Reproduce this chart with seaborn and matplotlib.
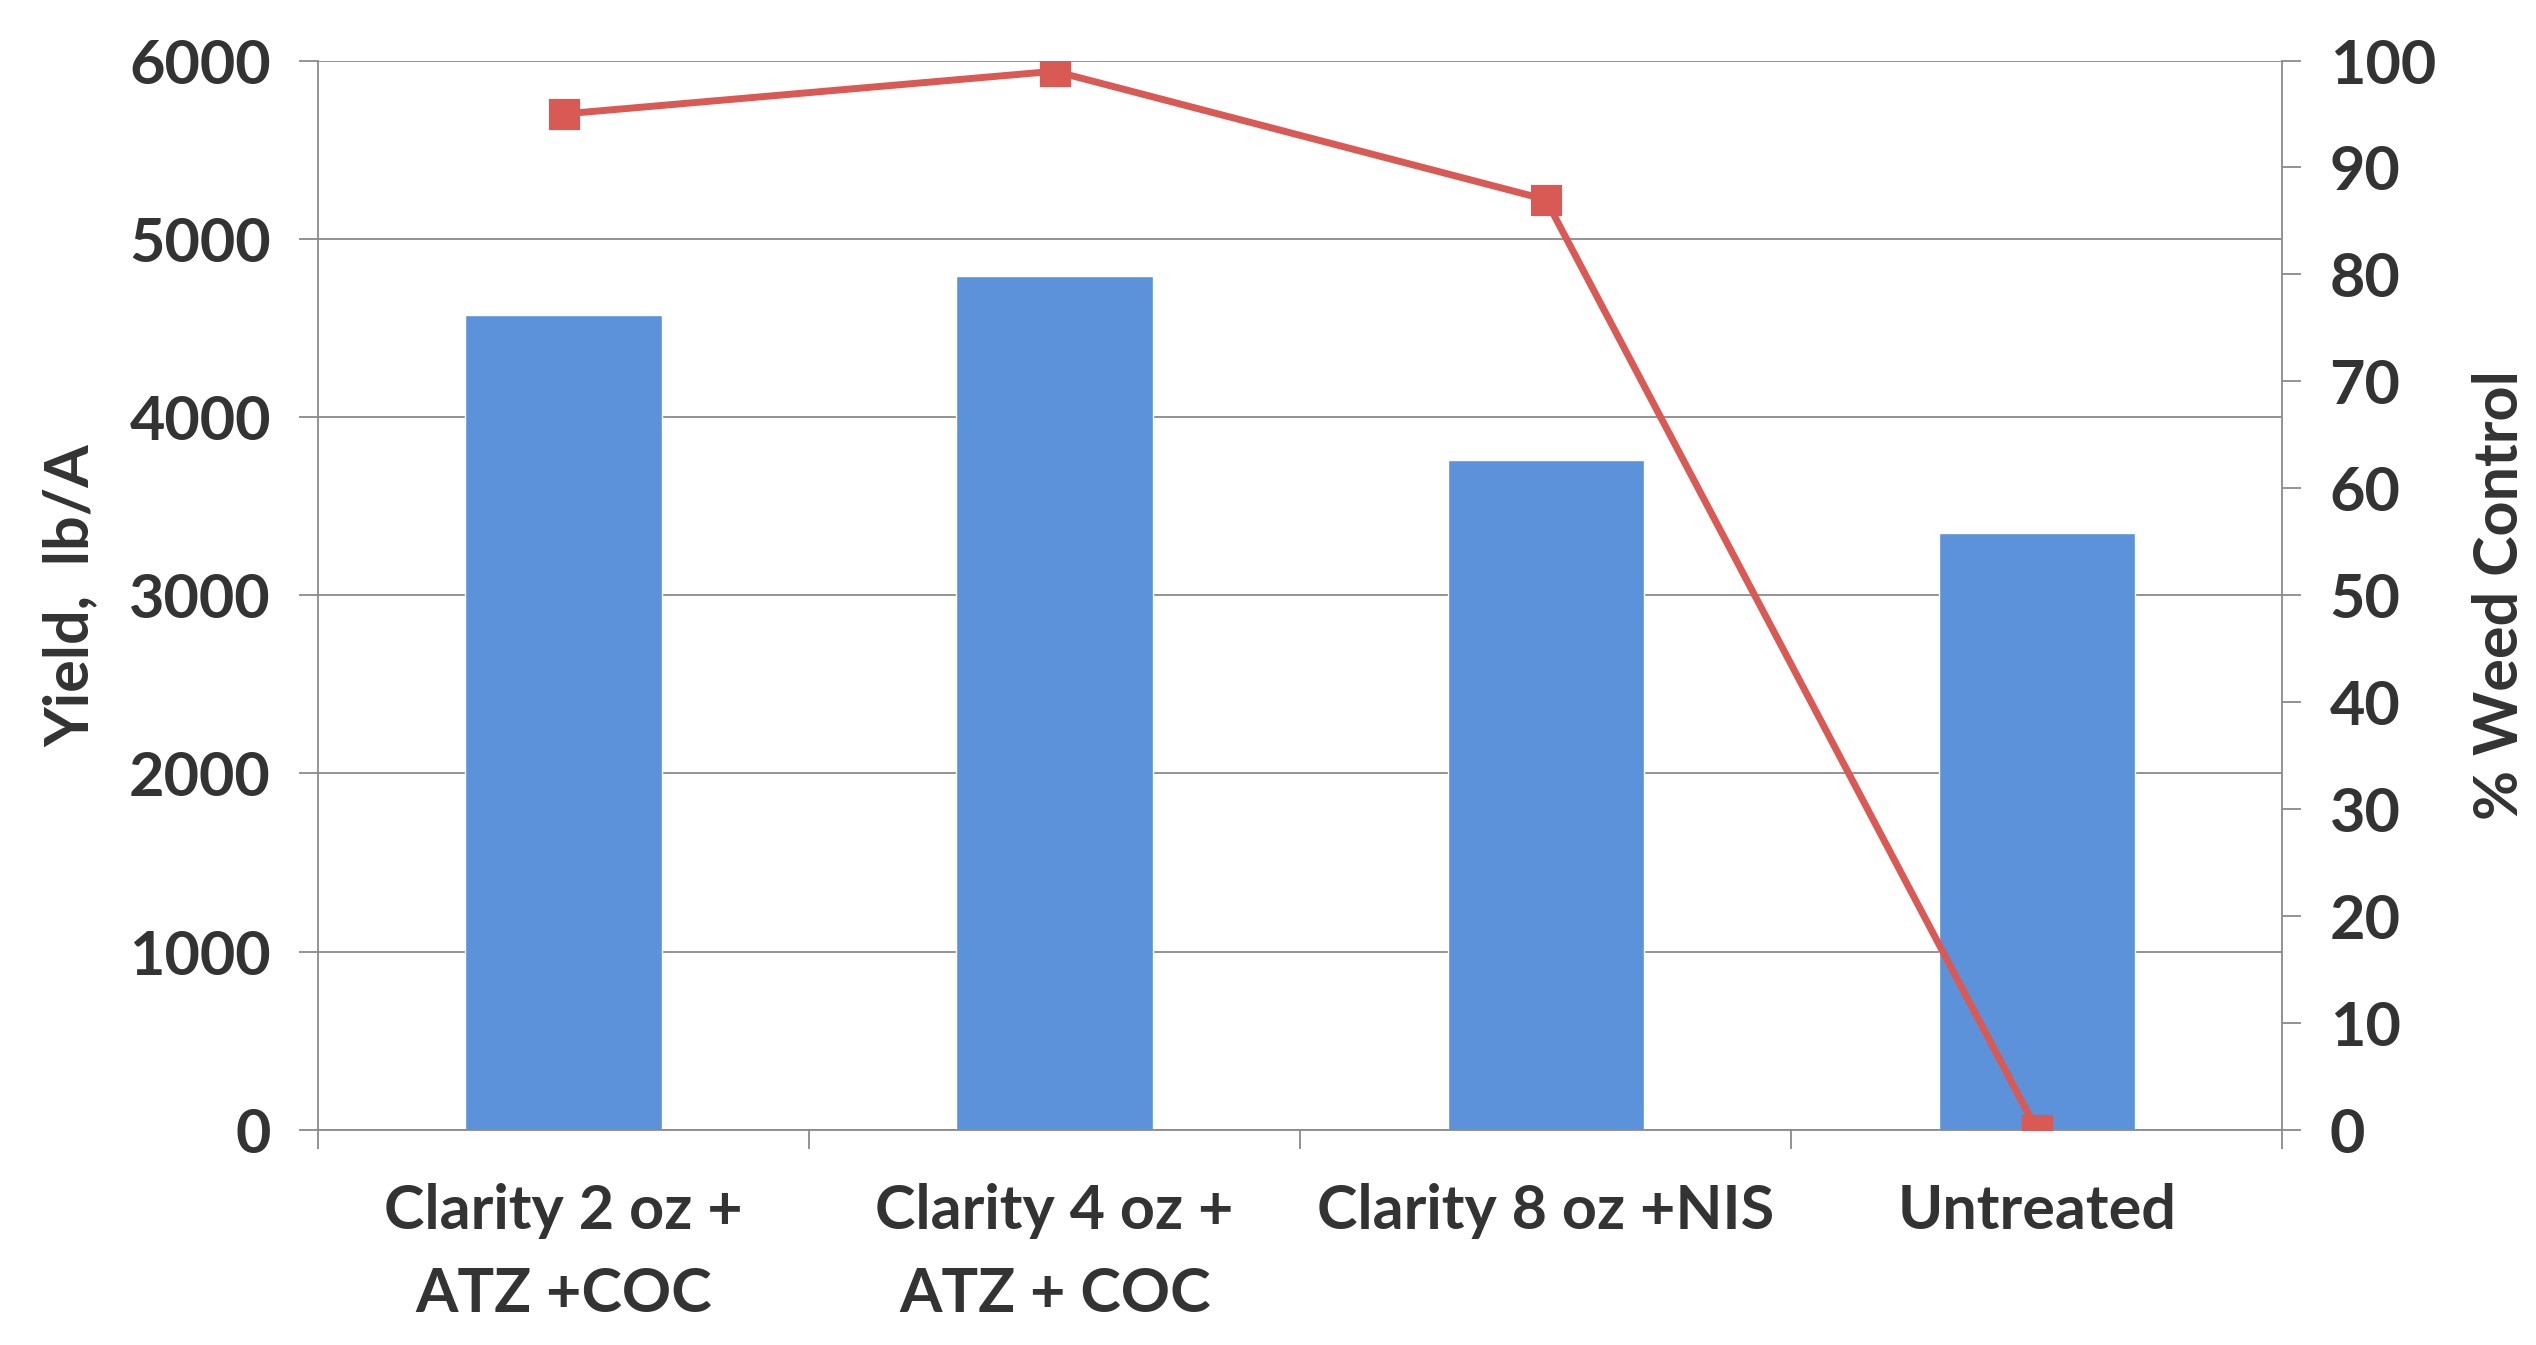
import matplotlib
matplotlib.use("Agg")
import matplotlib.pyplot as plt
import matplotlib.ticker as mticker
import seaborn as sns

# Data
treatments = [
    "Clarity 2 oz +\nATZ +COC",
    "Clarity 4 oz +\nATZ + COC",
    "Clarity 8 oz +NIS",
    "Untreated",
]
yield_lb_a = [4570, 4790, 3760, 3350]
weed_control = [95, 99, 87, 0]

BAR_COLOR = "#5b92d9"
LINE_COLOR = "#d95a55"
TEXT_COLOR = "#333333"
GRID_COLOR = "#8a8a8a"
FS = 44

sns.set_theme(style="white")
plt.rcParams["font.family"] = ["Lato", "DejaVu Sans"]
plt.rcParams["font.weight"] = "bold"

fig, ax = plt.subplots(figsize=(25.36, 13.45), dpi=100)
fig.subplots_adjust(left=0.1254, right=0.900, top=0.955, bottom=0.160)

# Bars: yield
sns.barplot(x=treatments, y=yield_lb_a, color=BAR_COLOR, width=0.4,
            saturation=1, ax=ax, zorder=2)
ax.set_ylim(0, 6000)
ax.set_xlim(-0.5, 3.5)
ax.yaxis.set_major_locator(mticker.MultipleLocator(1000))
ax.set_axisbelow(True)
ax.grid(axis="y", color=GRID_COLOR, linewidth=1.3)
ax.set_ylabel("Yield,  lb/A", fontsize=FS, fontweight="bold",
              color=TEXT_COLOR, labelpad=22)
ax.set_xlabel("")

# x ticks sit between the categories
ax.set_xticks([0, 1, 2, 3])
ax.set_xticklabels(treatments, fontsize=FS, fontweight="bold",
                   color=TEXT_COLOR, linespacing=1.6)
ax.xaxis.set_minor_locator(mticker.FixedLocator([-0.5, 0.5, 1.5, 2.5, 3.5]))
ax.tick_params(axis="x", which="major", length=0, pad=38)
ax.tick_params(axis="x", which="minor", length=14, width=1.3,
               color=GRID_COLOR, direction="out", bottom=True)
ax.tick_params(axis="y", which="major", length=14, width=1.3,
               color=GRID_COLOR, direction="out", left=True,
               labelsize=FS, labelcolor=TEXT_COLOR, pad=20)
for lbl in ax.get_yticklabels():
    lbl.set_fontweight("bold")

for side in ["left", "right", "bottom"]:
    ax.spines[side].set_color(GRID_COLOR)
    ax.spines[side].set_linewidth(1.3)
ax.spines["top"].set_visible(False)

# Line: % weed control on secondary axis
ax2 = ax.twinx()
sns.pointplot(x=treatments, y=weed_control, color=LINE_COLOR, markers="s",
              markersize=19, linewidth=5, ax=ax2)
ax2.set_ylim(0, 100)
ax2.set_xlim(-0.5, 3.5)
ax2.yaxis.set_major_locator(mticker.MultipleLocator(10))
ax2.set_ylabel("% Weed Control", fontsize=FS, fontweight="bold",
               color=TEXT_COLOR, labelpad=26)
ax2.yaxis.set_label_position("right")
ax2.tick_params(axis="y", which="major", length=14, width=1.3,
                color=GRID_COLOR, direction="out", right=True,
                labelsize=FS, labelcolor=TEXT_COLOR, pad=20)
for lbl in ax2.get_yticklabels():
    lbl.set_fontweight("bold")
for side in ["left", "right", "bottom", "top"]:
    ax2.spines[side].set_visible(False)
ax2.grid(False)

fig.savefig("out.png", dpi=100)
